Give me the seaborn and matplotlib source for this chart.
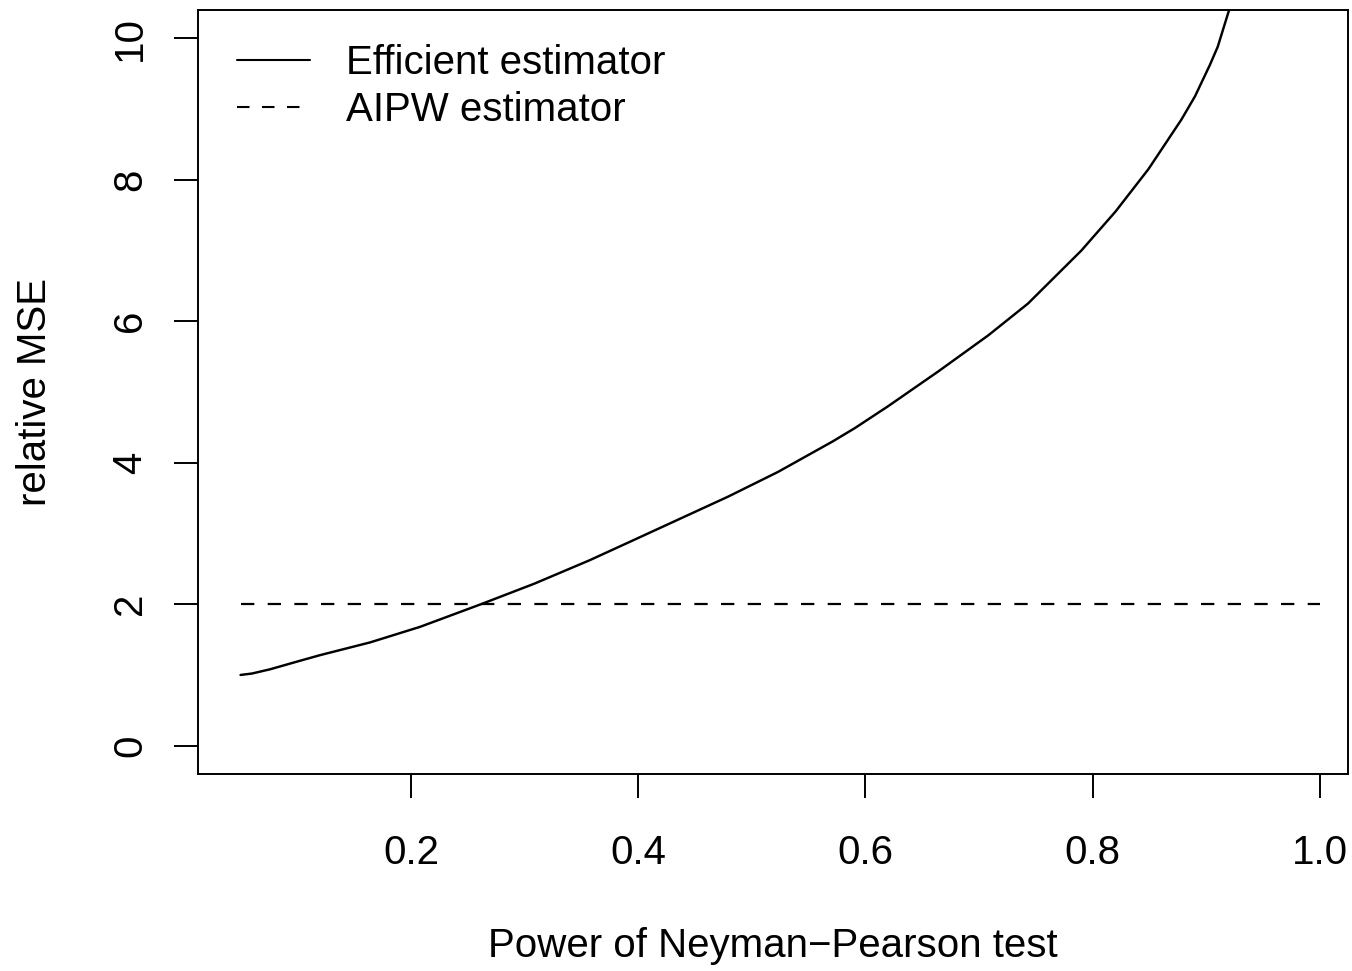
import matplotlib
matplotlib.use("Agg")
import matplotlib.pyplot as plt
import seaborn as sns

# values
power = [0.05, 0.06, 0.076, 0.10, 0.12, 0.164, 0.191, 0.208, 0.2616, 0.3085,
         0.357, 0.391, 0.479, 0.523, 0.571, 0.5907, 0.62, 0.664, 0.708, 0.743,
         0.790, 0.82, 0.849, 0.878, 0.89, 0.903, 0.91, 0.920]
efficient_mse = [1.00, 1.02, 1.08, 1.19, 1.28, 1.46, 1.595, 1.68, 2.00, 2.29,
                 2.62, 2.87, 3.52, 3.87, 4.30, 4.49, 4.80, 5.29, 5.80, 6.25,
                 7.00, 7.55, 8.15, 8.85, 9.18, 9.62, 9.88, 10.40]
aipw_x = [0.05, 1.0]
aipw_mse = [2.0, 2.0]

x_ticks = [0.2, 0.4, 0.6, 0.8, 1.0]
y_ticks = [0, 2, 4, 6, 8, 10]

sns.set_style("white")
plt.rcParams["font.family"] = ["Liberation Sans", "DejaVu Sans"]
plt.rcParams["text.color"] = "black"
plt.rcParams["axes.labelcolor"] = "black"
plt.rcParams["xtick.color"] = "black"
plt.rcParams["ytick.color"] = "black"
fs = 29

fig = plt.figure(figsize=(13.52, 9.71), dpi=100)
ax = fig.add_axes([0.1464, 0.2029, 0.8506, 0.7868])

sns.lineplot(x=power, y=efficient_mse, ax=ax, color="black", linewidth=1.75,
             estimator=None, sort=False, label="Efficient estimator")
sns.lineplot(x=aipw_x, y=aipw_mse, ax=ax, color="black", linewidth=1.6,
             estimator=None, sort=False, label="AIPW estimator",
             dashes=False, linestyle=(0, (6, 6)))

ax.set_xlim(0.0125, 1.0246)
ax.set_ylim(-0.4, 10.4)
ax.set_xticks(x_ticks)
ax.set_xticklabels([f"{v:.1f}" for v in x_ticks], fontsize=fs)
ax.set_yticks(y_ticks)
ax.set_yticklabels([str(v) for v in y_ticks], fontsize=fs, rotation=90, va="center")

ax.tick_params(axis="both", direction="out", length=17, width=1.4,
               bottom=True, left=True)
ax.tick_params(axis="x", pad=26)
ax.tick_params(axis="y", pad=18)
for sp in ax.spines.values():
    sp.set_visible(True)
    sp.set_color("black")
    sp.set_linewidth(1.4)

ax.set_xlabel("Power of Neyman\u2212Pearson test", fontsize=fs)
ax.set_ylabel("relative MSE", fontsize=fs)
ax.xaxis.set_label_coords(0.5, -0.2)
ax.yaxis.set_label_coords(-0.125, 0.5)

leg = ax.legend(loc="upper left", frameon=False, fontsize=fs,
                handlelength=1.8, handletextpad=0.9, labelspacing=0.24,
                borderaxespad=0.0, bbox_to_anchor=(0.02, 0.977))
for line in leg.get_lines():
    line.set_linewidth(1.5)

fig.savefig("out.png", dpi=100)
